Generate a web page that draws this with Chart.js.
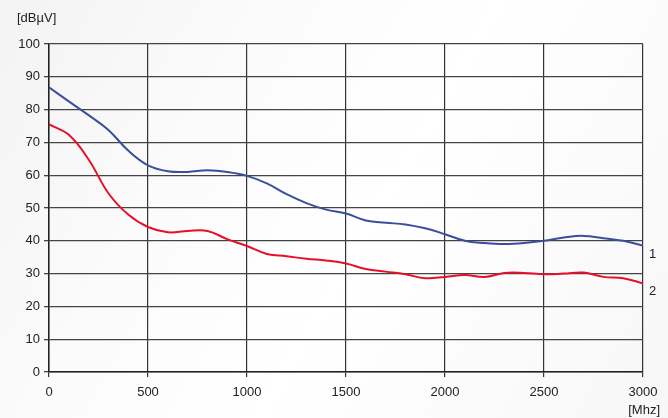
<!DOCTYPE html>
<html>
<head>
<meta charset="utf-8">
<script src="https://cdn.jsdelivr.net/npm/chart.js@4"></script>
<style>
html,body{margin:0;padding:0;background:#fff;}
#wrap{width:668px;height:418px;position:relative;background:linear-gradient(120deg,#f3f3f3 0%,#fbfbfb 30%,#ffffff 55%,#f7f7f7 100%);}
</style>
</head>
<body>
<div id="wrap"><canvas id="c" width="668" height="418"></canvas></div>
<script>
const freqs = [0,100,200,300,400,500,600,700,800,900,1000,1100,1200,1300,1400,1500,1600,1700,1800,1900,2000,2100,2200,2300,2400,2500,2600,2700,2800,2900,3000];
const series1 = [86.8,82.5,78.3,73.8,67.5,63.0,61.2,61.0,61.5,61.0,59.8,57.5,54.2,51.5,49.5,48.3,46.2,45.5,45.0,43.8,42.0,40.0,39.3,39.0,39.3,40.0,41.0,41.5,40.8,40.0,38.5];
const series2 = [75.5,72.3,64.8,54.5,48.0,44.2,42.6,43.0,43.0,40.5,38.4,36.0,35.3,34.5,34.0,33.1,31.4,30.6,29.8,28.6,29.0,29.6,29.0,30.2,30.2,29.8,30.0,30.3,29.0,28.6,27.0];
const yUnit = "[dBµV]";
const xUnit = "[Mhz]";
const seriesNames = ["1","2"];

const labelsPlugin = {
  id:'labels',
  afterDraw(chart){
    const ctx = chart.ctx;
    const x = chart.scales.x, y = chart.scales.y;
    ctx.save();
    ctx.fillStyle = '#222';
    ctx.font = '13px "Liberation Sans", Arial, sans-serif';
    ctx.textBaseline = 'middle';
    ctx.textAlign = 'left';
    ctx.fillText(yUnit, 17, 18);
    ctx.textAlign = 'right';
    ctx.fillText(xUnit, 660, 410);
    ctx.textAlign = 'left';
    ctx.fillText(seriesNames[0], x.right + 6, y.getPixelForValue(series1[series1.length-1]) + 9);
    ctx.fillText(seriesNames[1], x.right + 6, y.getPixelForValue(series2[series2.length-1]) + 8);
    ctx.restore();
  }
};

new Chart(document.getElementById('c'), {
  type:'line',
  data:{
    datasets:[
      {label:seriesNames[0], data:freqs.map((f,i)=>({x:f,y:series1[i]})), borderColor:'#3a4f9c', borderWidth:2, pointRadius:0, tension:0.4, fill:false},
      {label:seriesNames[1], data:freqs.map((f,i)=>({x:f,y:series2[i]})), borderColor:'#e5112b', borderWidth:2, pointRadius:0, tension:0.4, fill:false}
    ]
  },
  options:{
    responsive:false,
    animation:false,
    layout:{padding:{left:0,right:25,top:44,bottom:0}},
    plugins:{legend:{display:false}, tooltip:{enabled:false}},
    scales:{
      x:{type:'linear', min:0, max:3000,
        ticks:{stepSize:500, color:'#222', font:{family:'"Liberation Sans", Arial, sans-serif', size:13}, padding:8, maxRotation:0, callback:v=>String(v)},
        grid:{color:'#333', lineWidth:1.2, tickLength:5, drawTicks:true},
        border:{color:'#222', width:1.5},
        afterFit(s){ s.height = 46; }
      },
      y:{min:0, max:100,
        ticks:{stepSize:10, color:'#222', font:{family:'"Liberation Sans", Arial, sans-serif', size:13}, padding:4},
        grid:{color:'#444', lineWidth:1.3, tickLength:5},
        border:{color:'#222', width:1.5},
        afterFit(s){ s.width = 49; }
      }
    }
  },
  plugins:[labelsPlugin]
});
</script>
</body>
</html>
